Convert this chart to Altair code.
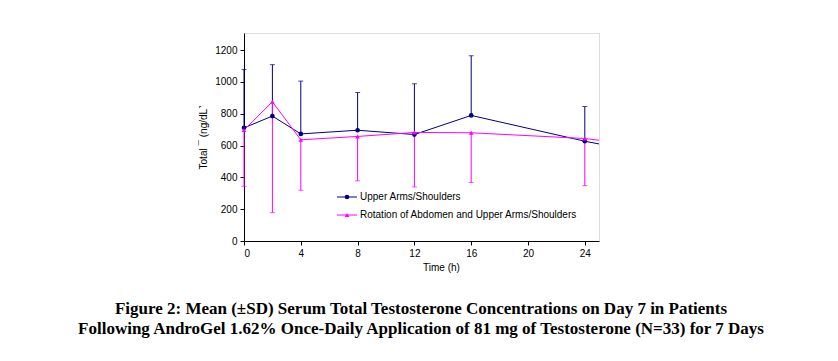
import altair as alt
import pandas as pd

# ---- data ----
times = [0, 2, 4, 8, 12, 16, 24]
series_names = ["Upper Arms/Shoulders", "Rotation of Abdomen and Upper Arms/Shoulders"]
upper_mean = [711, 785, 673, 696, 669, 789, 627]
upper_sd = [367, 323, 332, 237, 319, 375, 218]
rot_mean = [697, 875, 636, 657, 682, 680, 644]
rot_sd = [353, 697, 317, 279, 342, 313, 296]
# where the lines leave the plot on the right edge (x axis ends at 25 h)
edge_time = 25
upper_edge = 610
rot_edge = 633
x_ticks = [0, 4, 8, 12, 16, 20, 24]
y_ticks = [0, 200, 400, 600, 800, 1000, 1200]
colors = ["#000080", "#FF00FF"]
shapes = ["circle", "triangle-up"]
title_lines = [
    "Figure 2: Mean (\u00b1SD) Serum Total Testosterone Concentrations on Day 7 in Patients",
    "Following AndroGel 1.62% Once-Daily Application of 81 mg of Testosterone (N=33) for 7 Days",
]
y_title = "Total \u00af (ng/dL\u02fa"

# ---- tables ----
rows = []
for t, m, s in zip(times, upper_mean, upper_sd):
    rows.append(dict(series=series_names[0], time=t, mean=m, lo=m, hi=m + s, cap=m + s))
for t, m, s in zip(times, rot_mean, rot_sd):
    rows.append(dict(series=series_names[1], time=t, mean=m, lo=m - s, hi=m, cap=m - s))
pts = pd.DataFrame(rows)

line_rows = pts[["series", "time", "mean"]].to_dict("records")
line_rows.append(dict(series=series_names[0], time=edge_time, mean=upper_edge))
line_rows.append(dict(series=series_names[1], time=edge_time, mean=rot_edge))
lines = pd.DataFrame(line_rows)

xs = alt.Scale(domain=[0, 25], nice=False, zero=False)
ys = alt.Scale(domain=[0, 1307], nice=False)
cs = alt.Scale(domain=series_names, range=colors)
ss = alt.Scale(domain=series_names, range=shapes)

axis_common = dict(grid=False, domainColor="black", tickColor="black", tickSize=4,
                   labelFont="Liberation Sans", labelFontSize=10, labelColor="black",
                   labelPadding=3, labelOverlap=False, format="d",
                   titleFont="Liberation Sans", titleFontSize=10,
                   titleFontWeight="normal", titleColor="black")

x_axis = alt.Axis(values=x_ticks, title="Time (h)", titleX=197, titlePadding=4, **axis_common)
y_axis = alt.Axis(values=y_ticks, title=y_title, titlePadding=6, **axis_common)

X = alt.X("time:Q", scale=xs, axis=x_axis)
C = alt.Color("series:N", scale=cs, legend=None)

line_layer = alt.Chart(lines).mark_line(strokeWidth=1).encode(
    x=X, y=alt.Y("mean:Q", scale=ys, axis=y_axis), color=C, detail="series:N",
    order="time:Q")

err = alt.Chart(pts).mark_rule(strokeWidth=1).encode(
    x=X, y=alt.Y("lo:Q", scale=ys, axis=y_axis), y2="hi:Q", color=C)

caps = alt.Chart(pts).mark_tick(orient="horizontal", size=5, thickness=1).encode(
    x=X, y=alt.Y("cap:Q", scale=ys, axis=y_axis), color=C)

markers = alt.Chart(pts).mark_point(filled=True, size=22, opacity=1).encode(
    x=X, y=alt.Y("mean:Q", scale=ys, axis=y_axis), color=C,
    shape=alt.Shape("series:N", scale=ss, legend=None))

# ---- legend drawn inside the plot ----
leg = pd.DataFrame({"label": series_names, "color": colors, "shape": shapes})
legend_layers = []
for i in range(2):
    d = leg.iloc[[i]]
    yy = 164 + 18 * i
    legend_layers.append(alt.Chart(d).mark_rule(color=colors[i], strokeWidth=1).encode(
        x=alt.value(93), x2=alt.value(113), y=alt.value(yy)))
    legend_layers.append(alt.Chart(d).mark_point(filled=True, size=22, opacity=1,
                                                 color=colors[i], shape=shapes[i]).encode(
        x=alt.value(103), y=alt.value(yy)))
    legend_layers.append(alt.Chart(d).mark_text(align="left", baseline="middle",
                                                font="Liberation Sans", fontSize=10,
                                                color="black").encode(
        x=alt.value(116), y=alt.value(yy), text="label:N"))

# ---- figure caption below ----
cap_df = pd.DataFrame({"line": title_lines})
caption_layers = []
for i in range(2):
    caption_layers.append(alt.Chart(cap_df.iloc[[i]]).mark_text(
        align="center", baseline="middle", font="Liberation Serif", fontWeight="bold",
        fontSize=17, color="black").encode(
        x=alt.value(177), y=alt.value(276 + 20 * i), text="line:N"))

chart = alt.layer(line_layer, err, caps, markers, *legend_layers, *caption_layers).properties(
    width=355, height=208,
    autosize=alt.AutoSizeParams(type="none"),
    padding={"left": 236, "top": 25, "right": 231, "bottom": 112},
).configure_view(stroke="#808080", strokeWidth=1).configure(background="white")

chart.save("out.html", embed_options={"renderer": "svg", "actions": False})
